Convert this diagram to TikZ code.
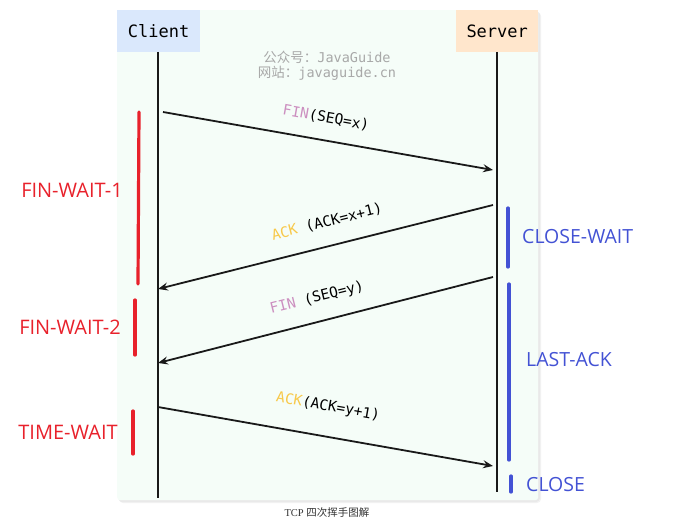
\documentclass[tikz,border=0pt]{standalone}
\usepackage{fontspec}
\setmainfont{Open Sans}
\newfontfamily\monof{DejaVu Sans Mono}
\newfontfamily\cjkf{Noto Sans CJK SC}
\newfontfamily\capf{Liberation Serif}
\usetikzlibrary{arrows.meta}
\definecolor{panelbg}{HTML}{F5FDF8}
\definecolor{clientbg}{HTML}{DAE8FC}
\definecolor{serverbg}{HTML}{FFE6CC}
\definecolor{stred}{HTML}{E8212B}
\definecolor{stblue}{HTML}{4352D4}
\definecolor{finpink}{HTML}{CC8FC0}
\definecolor{ackyel}{HTML}{F8C94A}
\definecolor{wmgray}{HTML}{A8A8A8}
\begin{document}
\begin{tikzpicture}[x=1pt,y=-1pt,
  hdr/.style={font=\monof\fontsize{17}{19}\selectfont, anchor=center},
  life/.style={line width=2pt, black!90},
  msg/.style={line width=1.8pt, black!90, -{Stealth[length=10pt,width=8pt,inset=3.5pt]}},
  msglbl/.style={font=\monof\fontsize{14.5}{16}\selectfont, inner sep=0pt},
  redbar/.style={line width=3.2pt, stred, line cap=round},
  bluebar/.style={line width=3.2pt, stblue, line cap=round},
  redlbl/.style={font=\fontsize{20}{22}\selectfont, text=stred, inner sep=0pt},
  bluelbl/.style={font=\fontsize{19.5}{22}\selectfont, text=stblue, inner sep=0pt, anchor=west},
  wm/.style={font=\fontsize{13.5}{15}\selectfont, text=wmgray, inner sep=0pt}
]
\useasboundingbox (0,0) rectangle (695,524);
% panel with subtle shadow
\fill[black, opacity=0.05, rounded corners=4pt] (119,12) rectangle (541,503);
\fill[black, opacity=0.04, rounded corners=4pt] (118,11) rectangle (540,502);
\node[draw=none, fill=panelbg, rounded corners=3pt, minimum width=421pt, minimum height=490pt, anchor=north west, inner sep=0pt] (panel) at (117,10) {};
% header boxes
\node[fill=clientbg, minimum width=83pt, minimum height=42pt, anchor=north west, inner sep=0pt] (client) at (117,10) {};
\node[hdr] at (client.center) {Client};
\node[fill=serverbg, minimum width=82pt, minimum height=42pt, anchor=north west, inner sep=0pt] (server) at (456,10) {};
\node[hdr] at (server.center) {Server};
% lifelines
\coordinate (cb) at (158,498);
\coordinate (sb) at (497,492);
\draw[life] (158,52) -- (cb);
\draw[life] (497,52) -- (sb);
% watermark
\node[wm] (wm1) at (327,57) {{\cjkf 公众号：}{\monof JavaGuide}};
\node[wm] (wm2) at (327,73) {{\cjkf 网站：}{\monof javaguide.cn}};
% message endpoints
\coordinate (c1) at (163,112);
\coordinate (s1) at (493,170);
\coordinate (s2) at (493,205);
\coordinate (c2) at (158,289);
\coordinate (s3) at (493,277);
\coordinate (c3) at (158,363);
\coordinate (c4) at (158,407);
\coordinate (s4) at (493,466);
\draw[msg] (c1) -- (s1);
\draw[msg] (s2) -- (c2);
\draw[msg] (s3) -- (c3);
\draw[msg] (c4) -- (s4);
\node[msglbl, rotate=-10] (l1) at (326,118) {\textcolor{finpink}{FIN}(SEQ=x)};
\node[msglbl, rotate=14] (l2) at (327,222) {\textcolor{ackyel}{ACK} (ACK=x+1)};
\node[msglbl, rotate=14] (l3) at (317,298) {\textcolor{finpink}{FIN} (SEQ=y)};
\node[msglbl, rotate=-10] (l4) at (328,407) {\textcolor{ackyel}{ACK}(ACK=y+1)};
% red states
\draw[redbar] (139,112) -- (138,284);
\draw[redbar] (135,300) -- (135,355);
\draw[redbar] (133,411) -- (133,454);
\node[redlbl] (fw1) at (72,190) {FIN-WAIT-1};
\node[redlbl] (fw2) at (70,327) {FIN-WAIT-2};
\node[redlbl] (tw) at (68,432) {TIME-WAIT};
% blue states
\draw[bluebar] (508,208) -- (508,267);
\draw[bluebar] (509,284) -- (509,460);
\draw[bluebar] (511,476) -- (511,492);
\node[bluelbl] (cw) at (522,237) {CLOSE-WAIT};
\node[bluelbl] (la) at (526,360) {LAST-ACK};
\node[bluelbl] (cl) at (526,485) {CLOSE};
% caption
\node[inner sep=0pt, font=\fontsize{10.5}{12}\selectfont, text=black!80] (cap) at (327,513) {{\capf TCP }{\cjkf 四次挥手图解}};
\end{tikzpicture}
\end{document}
